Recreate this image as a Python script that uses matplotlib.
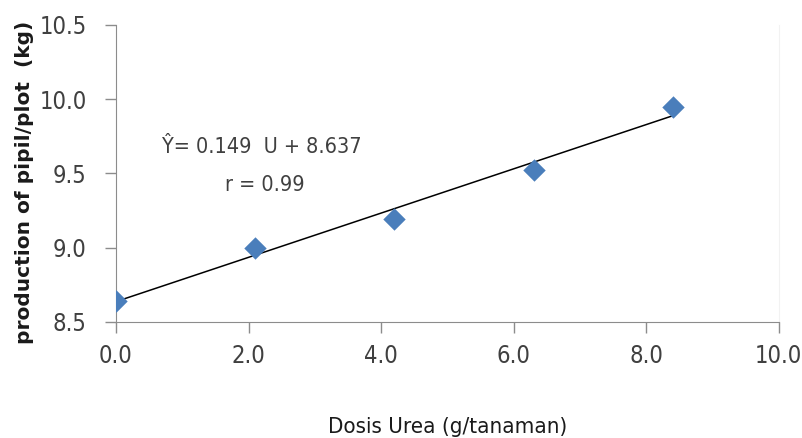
import matplotlib
matplotlib.use("Agg")
import matplotlib.pyplot as plt
from matplotlib import font_manager
import numpy as np

dose = [0.0, 2.1, 4.2, 6.3, 8.4]
production = [8.64, 9.00, 9.19, 9.52, 9.95]
slope = 0.149
intercept = 8.637
xticks = [0.0, 2.0, 4.0, 6.0, 8.0, 10.0]
yticks = [8.5, 9.0, 9.5, 10.0, 10.5]

fl = font_manager.fontManager.ttflist
names = {f.name for f in fl}
if "Liberation Sans Narrow" in names:
    nfont = dict(family="Liberation Sans Narrow")
    fsize = 19
elif any(f.name == "DejaVu Sans" and f.stretch == "condensed" for f in fl):
    nfont = dict(family="DejaVu Sans", stretch="condensed")
    fsize = 17
else:
    nfont = dict(family="Lato")
    fsize = 18

fig = plt.figure(figsize=(8.02, 4.38), dpi=100)
ax = fig.add_axes([0.1446, 0.265, 0.8264, 0.678])

ax.scatter(dose, production, marker="D", s=130, color="#4a7ebb", zorder=3, linewidths=0)
xl = np.array([dose[0], dose[-1]])
ax.plot(xl, slope * xl + intercept, color="black", lw=1.1, zorder=2)

ax.set_xlim(0, 10)
ax.set_ylim(8.5, 10.5)
ax.set_xticks(xticks)
ax.set_yticks(yticks)
ax.set_xticklabels([f"{v:.1f}" for v in xticks])
ax.set_yticklabels([f"{v:.1f}" for v in yticks])
ax.spines["top"].set_visible(False)
ax.spines["right"].set_color("#f2f2f2")
ax.spines["left"].set_color("#8c8c8c")
ax.spines["bottom"].set_color("#8c8c8c")
ax.tick_params(axis="both", colors="#8c8c8c", labelcolor="#404040", length=8, width=1)
ax.tick_params(axis="x", pad=8)
ax.tick_params(axis="y", pad=13)
for lab in ax.get_xticklabels() + ax.get_yticklabels():
    lab.set(**nfont)
    lab.set_fontsize(fsize)

ax.text(2.2, 9.68, "Ŷ= 0.149  U + 8.637", fontsize=fsize - 1.5, color="#404040",
        ha="center", va="center", **nfont)
ax.text(2.25, 9.42, "r = 0.99", fontsize=fsize - 1.5, color="#404040",
        ha="center", va="center", **nfont)

ax.set_xlabel("Dosis Urea (g/tanaman)", fontsize=fsize - 1, color="#1a1a1a", labelpad=35, **nfont)
ax.set_ylabel("production of pipil/plot  (kg)", fontsize=14.5, fontweight="bold", color="#1a1a1a")
ax.yaxis.set_label_coords(-0.123, 0.47)

fig.savefig("out.png", dpi=100)
